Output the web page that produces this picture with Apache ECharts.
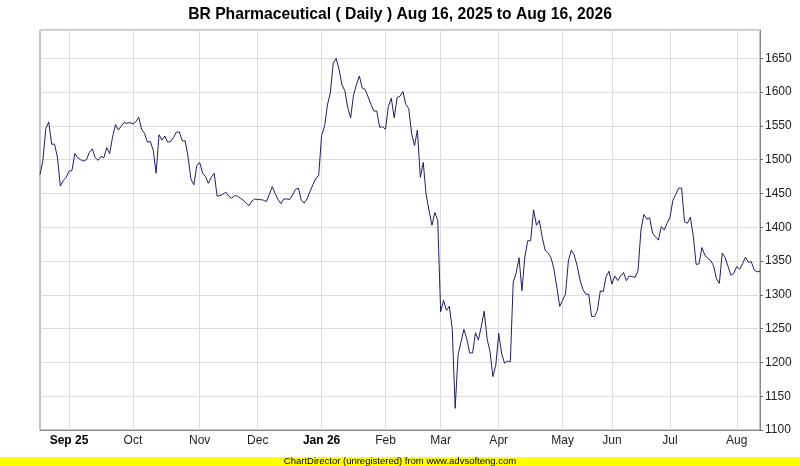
<!DOCTYPE html>
<html>
<head>
<meta charset="utf-8">
<script src="https://cdn.jsdelivr.net/npm/echarts@6/dist/echarts.min.js"></script>
<style>
html,body{margin:0;padding:0;background:#fff;}
#chart{width:800px;height:466px;}
</style>
</head>
<body>
<div id="chart"></div>
<script>
const titleText = 'BR Pharmaceutical ( Daily ) Aug 16, 2025 to Aug 16, 2026';
const footerText = 'ChartDirector (unregistered) from www.advsofteng.com';
const monthLabels = ['Aug', 'Sep 25', 'Oct', 'Nov', 'Dec', 'Jan 26', 'Feb', 'Mar', 'Apr', 'May', 'Jun', 'Jul', 'Aug'];
const monthTradingDays = [10, 22, 23, 20, 22, 22, 19, 20, 22, 17, 20, 23, 9];
const boldLabels = ['Sep 25', 'Jan 26'];
const yTicks = { min: 1100, max: 1692, step: 50 };
const closePrices = [
  1478, 1499, 1546, 1556, 1523, 1523, 1504, 1461, 1469, 1474,
  1483, 1484, 1509, 1503, 1500, 1498, 1500, 1511, 1516, 1503,
  1499, 1505, 1503, 1518, 1509, 1534, 1552, 1544, 1550, 1555,
  1554, 1555, 1553, 1556, 1563, 1545, 1539, 1526, 1527, 1514,
  1480, 1537, 1529, 1535, 1526, 1527, 1533, 1541, 1541, 1528,
  1528, 1504, 1471, 1463, 1491, 1496, 1480, 1475, 1465, 1474,
  1480, 1446, 1447, 1449, 1452, 1446, 1443, 1447, 1446, 1443,
  1440, 1436, 1432, 1439, 1442, 1441, 1441, 1440, 1438, 1449,
  1460, 1450, 1441, 1435, 1442, 1442, 1441, 1448, 1456, 1458,
  1440, 1436, 1442, 1453, 1463, 1472, 1477, 1536, 1549, 1581,
  1599, 1643, 1650, 1634, 1611, 1602, 1577, 1562, 1596, 1611,
  1624, 1606, 1604, 1593, 1582, 1572, 1572, 1548, 1549, 1545,
  1579, 1591, 1562, 1592, 1594, 1601, 1582, 1576, 1539, 1521,
  1544, 1474, 1496, 1448, 1425, 1403, 1422, 1410, 1275, 1292,
  1277, 1283, 1250, 1132, 1211, 1230, 1249, 1235, 1214, 1214,
  1244, 1233, 1253, 1276, 1235, 1216, 1179, 1196, 1243, 1213,
  1199, 1202, 1201, 1319, 1332, 1355, 1306, 1356, 1380, 1380,
  1426, 1403, 1410, 1385, 1366, 1362, 1355, 1339, 1312, 1283,
  1292, 1301, 1350, 1366, 1359, 1343, 1322, 1308, 1301, 1301,
  1268, 1268, 1277, 1306, 1305, 1327, 1335, 1316, 1328, 1321,
  1328, 1333, 1321, 1328, 1327, 1326, 1336, 1396, 1419, 1412,
  1414, 1391, 1386, 1381, 1401, 1396, 1406, 1415, 1440, 1449,
  1458, 1458, 1408, 1406, 1415, 1388, 1345, 1346, 1370, 1359,
  1354, 1351, 1343, 1324, 1317, 1362, 1355, 1342, 1329, 1332,
  1342, 1338, 1346, 1356, 1348, 1349, 1337, 1334, 1335
];

const categories = [];
const monthStart = {};
monthLabels.forEach(function (lab, m) {
  for (let d = 0; d < monthTradingDays[m]; d++) {
    if (d === 0 && m > 0) monthStart[categories.length] = true;
    categories.push(lab + ' #' + (d + 1));
  }
});
const isMonthStart = function (i) { return !!monthStart[i]; };

const chart = echarts.init(document.getElementById('chart'), null, { renderer: 'canvas' });
chart.setOption({
  animation: false,
  backgroundColor: '#ffffff',
  textStyle: { fontFamily: 'Liberation Sans, Arial, sans-serif' },
  title: {
    text: titleText,
    left: 'center',
    top: 2,
    textStyle: { fontFamily: 'Liberation Sans, Arial, sans-serif', fontSize: 15.7, fontWeight: 'bold', color: '#000' }
  },
  grid: {
    left: 40, right: 40, top: 30, bottom: 36,
    show: true, borderColor: '#888888', borderWidth: 1, backgroundColor: '#ffffff'
  },
  xAxis: {
    type: 'category',
    data: categories,
    boundaryGap: false,
    axisLine: { show: true, lineStyle: { color: '#888888', width: 1 } },
    axisTick: { show: false },
    splitLine: { show: true, interval: isMonthStart, lineStyle: { color: '#dcdcdc', width: 1 } },
    axisLabel: {
      interval: isMonthStart,
      margin: 5,
      fontSize: 12,
      color: '#222',
      fontFamily: 'Liberation Sans, Arial, sans-serif',
      formatter: function (v) {
        const lab = v.split(' #')[0];
        return boldLabels.indexOf(lab) >= 0 ? '{b|' + lab + '}' : lab;
      },
      rich: { b: { fontWeight: 'bold', fontSize: 12, color: '#000', fontFamily: 'Liberation Sans, Arial, sans-serif' } }
    }
  },
  yAxis: {
    type: 'value',
    position: 'right',
    min: yTicks.min,
    max: yTicks.max,
    interval: yTicks.step,
    axisLine: { show: true, lineStyle: { color: '#888888', width: 1 } },
    axisTick: { show: true, length: 3, lineStyle: { color: '#666666' } },
    splitLine: { show: true, lineStyle: { color: '#dcdcdc', width: 1 } },
    axisLabel: {
      showMaxLabel: false,
      margin: 5,
      fontSize: 12,
      color: '#222',
      fontFamily: 'Liberation Sans, Arial, sans-serif',
      formatter: function (v) { return (v % yTicks.step === 0) ? String(v) : ''; }
    }
  },
  series: [{
    type: 'line',
    data: closePrices,
    showSymbol: false,
    symbol: 'none',
    lineStyle: { color: '#202060', width: 1 },
    itemStyle: { color: '#202060' }
  }],
  graphic: [
    { type: 'rect', left: 0, bottom: 0, z: 100, shape: { width: 800, height: 9 }, style: { fill: '#ffff00' } },
    { type: 'text', left: 'center', bottom: 0, z: 101, style: { text: footerText, fill: '#000', font: '9.5px "Liberation Sans", Arial, sans-serif' } }
  ]
});
</script>
</body>
</html>
